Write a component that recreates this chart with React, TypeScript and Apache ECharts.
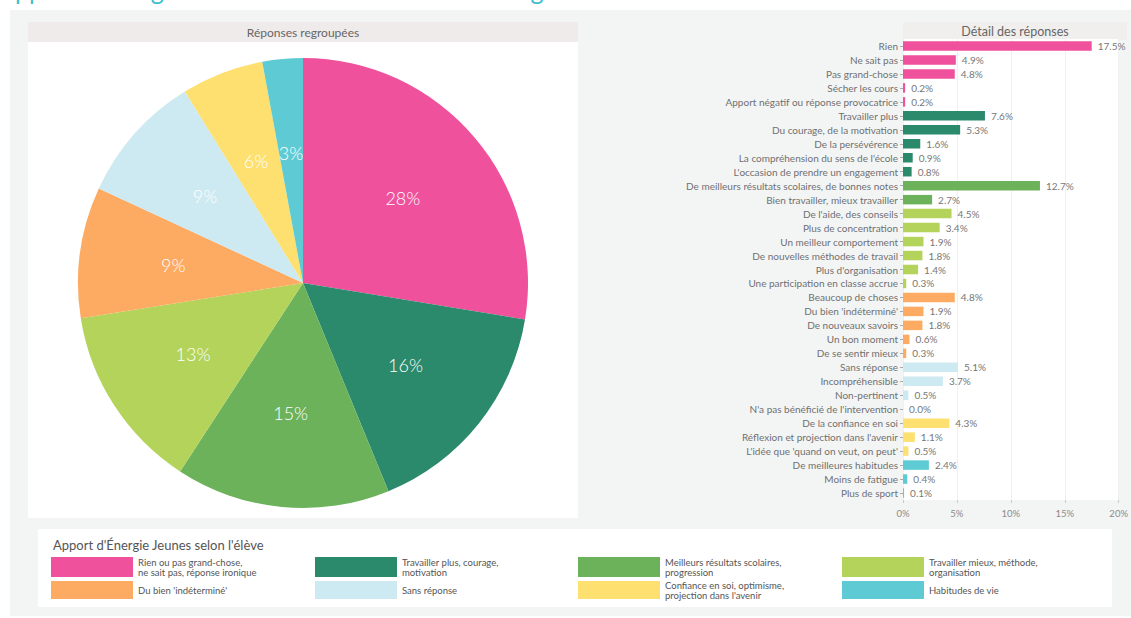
import React, { useEffect, useRef } from "react";
import * as echarts from "echarts";

const groupNames = [
  "Rien ou pas grand-chose,\nne sait pas, réponse ironique",
  "Travailler plus, courage,\nmotivation",
  "Meilleurs résultats scolaires,\nprogression",
  "Travailler mieux, méthode,\norganisation",
  "Du bien 'indéterminé'",
  "Sans réponse",
  "Confiance en soi, optimisme,\nprojection dans l'avenir",
  "Habitudes de vie",
];
const groupColors = ["#ef519d", "#2b8a6c", "#6cb25a", "#b3d35a", "#fdab63", "#cde9f1", "#fde070", "#5ecbd4"];
const groupValues = [27.6, 16.2, 15.4, 13.3, 9.4, 9.3, 5.9, 2.9];

const detailCategories = [
  "Rien",
  "Ne sait pas",
  "Pas grand-chose",
  "Sécher les cours",
  "Apport négatif ou réponse provocatrice",
  "Travailler plus",
  "Du courage, de la motivation",
  "De la persévérence",
  "La compréhension du sens de l'école",
  "L'occasion de prendre un engagement",
  "De meilleurs résultats scolaires, de bonnes notes",
  "Bien travailler, mieux travailler",
  "De l'aide, des conseils",
  "Plus de concentration",
  "Un meilleur comportement",
  "De nouvelles méthodes de travail",
  "Plus d'organisation",
  "Une participation en classe accrue",
  "Beaucoup de choses",
  "Du bien 'indéterminé'",
  "De nouveaux savoirs",
  "Un bon moment",
  "De se sentir mieux",
  "Sans réponse",
  "Incompréhensible",
  "Non-pertinent",
  "N'a pas bénéficié de l'intervention",
  "De la confiance en soi",
  "Réflexion et projection dans l'avenir",
  "L'idée que 'quand on veut, on peut'",
  "De meilleures habitudes",
  "Moins de fatigue",
  "Plus de sport",
];
const detailValues = [
  17.5, 4.9, 4.8, 0.2, 0.2,
  7.6, 5.3, 1.6, 0.9, 0.8,
  12.7, 2.7,
  4.5, 3.4, 1.9, 1.8, 1.4, 0.3,
  4.8, 1.9, 1.8, 0.6, 0.3,
  5.1, 3.7, 0.5, 0.0,
  4.3, 1.1, 0.5,
  2.4, 0.4, 0.1,
];
const detailGroup = [
  0, 0, 0, 0, 0,
  1, 1, 1, 1, 1,
  2, 2,
  3, 3, 3, 3, 3, 3,
  4, 4, 4, 4, 4,
  5, 5, 5, 5,
  6, 6, 6,
  7, 7, 7,
];
const xTicks = [0, 5, 10, 15, 20];

const FONT = "Lato, 'Noto Sans', sans-serif";

export default function App() {
  const ref = useRef<HTMLDivElement>(null);
  useEffect(() => {
    if (!ref.current) return;
    const chart = echarts.init(ref.current, null, { renderer: "svg" });

    const legendCols = [51, 315, 578, 842];
    const legendRows = [
      { y: 557, h: 20 },
      { y: 581, h: 18 },
    ];
    const legendEls: any[] = [];
    groupNames.forEach((name, i) => {
      const col = i % 4;
      const row = Math.floor(i / 4);
      const x = legendCols[col];
      const r = legendRows[row];
      legendEls.push({
        type: "rect",
        shape: { x, y: r.y, width: 82, height: r.h },
        style: { fill: groupColors[i] },
        silent: true,
      });
      legendEls.push({
        type: "text",
        x: x + 87,
        y: r.y + r.h / 2,
        style: {
          text: name,
          fill: "#555",
          fontSize: 9.5,
          lineHeight: 10,
          fontFamily: FONT,
          align: "left",
          verticalAlign: "middle",
        },
        silent: true,
      });
    });

    chart.setOption({
      animation: false,
      backgroundColor: "#ffffff",
      textStyle: { fontFamily: FONT },
      graphic: [
        {
          type: "rect",
          z: -10,
          shape: { x: 10, y: 10, width: 1121, height: 606 },
          style: { fill: "#f3f5f5" },
          silent: true,
        },
        {
          type: "text",
          x: -2,
          y: 2,
          style: {
            text: "Apport d'Énergie Jeunes selon les élèves de collège",
            fill: "#3bbfd0",
            fontSize: 25,
            fontFamily: FONT,
            align: "left",
            verticalAlign: "bottom",
          },
          silent: true,
        },
        {
          type: "rect",
          z: -5,
          shape: { x: 28, y: 22, width: 550, height: 20 },
          style: { fill: "#efebeb" },
          silent: true,
        },
        {
          type: "rect",
          z: -5,
          shape: { x: 28, y: 42, width: 550, height: 476 },
          style: { fill: "#ffffff" },
          silent: true,
        },
        {
          type: "text",
          x: 303,
          y: 32,
          style: {
            text: "Réponses regroupées",
            fill: "#666",
            fontSize: 12,
            fontFamily: FONT,
            align: "center",
            verticalAlign: "middle",
          },
          silent: true,
        },
        {
          type: "rect",
          z: -5,
          shape: { x: 903, y: 22, width: 224, height: 18 },
          style: { fill: "#f1eeee" },
          silent: true,
        },
        {
          type: "text",
          x: 1015,
          y: 31,
          style: {
            text: "Détail des réponses",
            fill: "#666",
            fontSize: 12.5,
            fontFamily: FONT,
            align: "center",
            verticalAlign: "middle",
          },
          silent: true,
        },
        {
          type: "rect",
          z: -5,
          shape: { x: 38, y: 529, width: 1074, height: 78 },
          style: { fill: "#ffffff" },
          silent: true,
        },
        {
          type: "text",
          x: 53,
          y: 545,
          style: {
            text: "Apport d'Énergie Jeunes selon l'élève",
            fill: "#555",
            fontSize: 13,
            fontFamily: FONT,
            align: "left",
            verticalAlign: "middle",
          },
          silent: true,
        },
        ...legendEls,
      ],
      grid: {
        left: 903,
        right: 4,
        top: 39,
        bottom: 118,
        show: true,
        backgroundColor: "#ffffff",
        borderWidth: 0,
      },
      xAxis: {
        type: "value",
        min: xTicks[0],
        max: xTicks[xTicks.length - 1],
        interval: 5,
        axisLine: { show: false },
        axisTick: { show: true, length: 3, lineStyle: { color: "#ccc" } },
        splitLine: { show: true, lineStyle: { color: "#f0f0f0" } },
        axisLabel: {
          fontSize: 9.5,
          color: "#8a8a8a",
          margin: 8,
          fontFamily: FONT,
          formatter: (v: number) => v + "%",
        },
      },
      yAxis: {
        type: "category",
        inverse: true,
        data: detailCategories,
        axisLine: { show: false },
        axisTick: { show: true, length: 3, alignWithLabel: true, lineStyle: { color: "#aaa" } },
        axisLabel: { fontSize: 10, color: "#707070", margin: 5, fontFamily: FONT, interval: 0 },
      },
      series: [
        {
          type: "pie",
          center: [303, 283],
          radius: [0, 225],
          startAngle: 90,
          clockwise: true,
          silent: true,
          label: { show: false },
          labelLine: { show: false },
          itemStyle: { borderWidth: 0 },
          data: groupValues.map((v, i) => ({
            value: v,
            name: groupNames[i],
            itemStyle: { color: groupColors[i] },
          })),
        },
        {
          type: "pie",
          center: [303, 283],
          radius: [0, 256],
          startAngle: 90,
          clockwise: true,
          silent: true,
          z: 5,
          itemStyle: { color: "rgba(0,0,0,0)", borderWidth: 0 },
          label: {
            show: true,
            position: "inside",
            color: "#ffffff",
            fontSize: 18,
            fontWeight: 300,
            fontFamily: FONT,
            formatter: (p: any) => Math.round(p.percent) + "%",
          },
          labelLine: { show: false },
          data: groupValues.map((v, i) => ({ value: v, name: groupNames[i] })),
        },
        {
          type: "bar",
          barWidth: "68%",
          silent: true,
          data: detailValues.map((v, i) => ({
            value: v,
            itemStyle: { color: groupColors[detailGroup[i]] },
          })),
          label: {
            show: true,
            position: "right",
            distance: 6,
            fontSize: 10,
            color: "#777",
            fontFamily: FONT,
            formatter: (p: any) => Number(p.value).toFixed(1) + "%",
          },
        },
      ],
    });
    return () => chart.dispose();
  }, []);
  return (
    <div
      ref={ref}
      style={{ position: "fixed", left: 0, top: 0, width: 1131, height: 618 }}
    />
  );
}
